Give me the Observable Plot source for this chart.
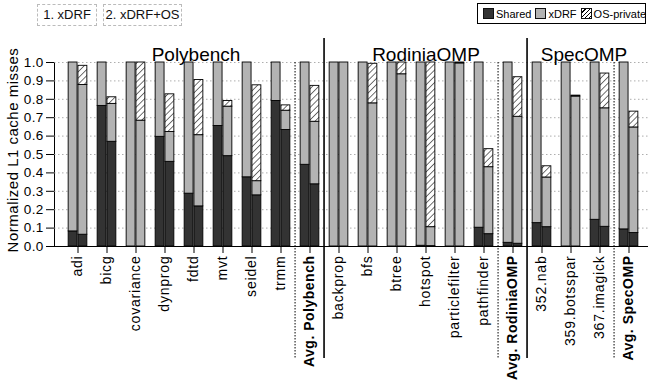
<!DOCTYPE html>
<html><head><meta charset="utf-8">
<script src="https://cdn.jsdelivr.net/npm/d3@7"></script>
<script src="https://cdn.jsdelivr.net/npm/@observablehq/plot@0.6"></script>
<style>
body{margin:0;background:#fff;font-family:"Liberation Sans",Arial,sans-serif;}
#wrap{position:relative;width:648px;height:383px;overflow:hidden;}
#wrap svg{position:absolute;left:0;top:0;}
.cfg{position:absolute;top:4px;height:22px;border:1px dashed #bbb;box-sizing:border-box;font-size:13px;line-height:20px;text-align:center;color:#111;white-space:nowrap;}
#legend{position:absolute;left:477px;top:3px;width:169px;height:21px;border:1px solid #000;box-sizing:border-box;background:#fff;display:flex;align-items:center;padding-left:5px;font-size:11px;color:#000;white-space:nowrap;}
#legend .sw{width:9px;height:9px;border:1px solid #111;margin-right:2px;flex:none;}
#legend .lab{margin-right:4px;}
</style></head><body><div id="wrap"></div>
<script>
const benchmarks = ["adi","bicg","covariance","dynprog","fdtd","mvt","seidel","trmm","Avg. Polybench",
  "backprop","bfs","btree","hotspot","particlefilter","pathfinder","Avg. RodiniaOMP",
  "352.nab","359.botsspar","367.imagick","Avg. SpecOMP"];
// config 1: xDRF  (segment sizes)
const shared1 = [0.082,0.764,0.000,0.596,0.287,0.655,0.376,0.791,0.444, 0.000,0.000,0.000,0.004,0.000,0.102,0.020, 0.127,0.000,0.145,0.093];
const xdrf1   = [0.918,0.236,1.000,0.404,0.713,0.345,0.624,0.209,0.556, 1.000,1.000,1.000,0.996,1.000,0.898,0.980, 0.873,1.000,0.855,0.907];
const os1     = [0,0,0,0,0,0,0,0,0, 0,0,0,0,0,0,0, 0,0,0,0];
// config 2: xDRF+OS (segment sizes)
const shared2 = [0.064,0.569,0.000,0.460,0.218,0.491,0.278,0.633,0.338, 0.000,0.000,0.000,0.002,0.000,0.067,0.015, 0.105,0.000,0.107,0.073];
const xdrf2   = [0.814,0.206,0.684,0.162,0.387,0.269,0.077,0.105,0.340, 1.000,0.778,0.936,0.103,0.995,0.364,0.690, 0.270,0.815,0.644,0.574];
const os2     = [0.104,0.036,0.316,0.205,0.300,0.031,0.521,0.029,0.195, 0.000,0.215,0.064,0.895,0.005,0.098,0.215, 0.061,0.005,0.189,0.086];
const yTicks = [0.0,0.1,0.2,0.3,0.4,0.5,0.6,0.7,0.8,0.9,1.0];
const seriesNames = ["Shared","xDRF","OS-private"];
const seriesColors = ["#333333","#b3b3b3","url(#hatch)"];
const configLabels = ["1. xDRF","2. xDRF+OS"];
const suiteNames = ["Polybench","RodiniaOMP","SpecOMP"];
const suiteAnchors = ["fdtd","hotspot","359.botsspar"];
const suiteShift = [2,0,13];
const dottedAt = ["Avg. Polybench","Avg. RodiniaOMP","Avg. SpecOMP"];
const solidAt = ["backprop","352.nab"];
const yLabel = "Normalized L1 cache misses";

function rows(sh, xd, os){
  const out = [];
  benchmarks.forEach((b,i)=>{
    [sh[i],xd[i],os[i]].forEach((v,k)=>{ if (v>0) out.push({bench:b, series:seriesNames[k], value:v}); });
  });
  return out;
}
const rows1 = rows(shared1,xdrf1,os1), rows2 = rows(shared2,xdrf2,os2);
const half = 29.9/2, bw = 9.8;
const barOpts = {x:"bench", y:"value", fill:"series", stroke:"#000", strokeWidth:0.9};

const svg = Plot.plot({
  width:648, height:383, marginLeft:54, marginRight:0, marginTop:62, marginBottom:137,
  style:{fontFamily:"'Liberation Sans', Arial, sans-serif", fontSize:"13.5px", background:"transparent", color:"#000"},
  x:{domain:benchmarks, range:[54,652], padding:0, tickSize:7, tickPadding:2, tickRotate:-90, line:true, label:null},
  y:{domain:[0,1], ticks:yTicks, tickFormat:d3.format(".1f"), tickSize:8, tickPadding:3, line:true, label:null},
  color:{type:"ordinal", domain:seriesNames, range:seriesColors},
  marks:[
    Plot.ruleY(yTicks.filter(d=>d>0), {stroke:"#999", strokeWidth:0.8, strokeDasharray:"1.5,2.5"}),
    Plot.barY(rows1, Plot.stackY({...barOpts, insetLeft:half-bw, insetRight:half})),
    Plot.barY(rows2, Plot.stackY({...barOpts, insetLeft:half, insetRight:half-bw})),
    Plot.ruleX(dottedAt, {x:d=>d, dx:-half, stroke:"#000", strokeWidth:1, strokeDasharray:"1.5,1.5", insetBottom:-112}),
    Plot.ruleX(solidAt, {x:d=>d, dx:-half, stroke:"#000", strokeWidth:1.6, insetTop:-24, insetBottom:-112}),
    ...suiteNames.map((n,i)=>Plot.text([n], {x:()=>suiteAnchors[i], text:d=>d, frameAnchor:"top", dy:-15, dx:suiteShift[i], fontSize:19, fill:"#000"}))
  ]
});

const s = d3.select(svg);
const defs = s.insert("defs", ":first-child");
const pat = defs.append("pattern").attr("id","hatch").attr("patternUnits","userSpaceOnUse")
  .attr("width",4.4).attr("height",4.4).attr("patternTransform","rotate(45)");
pat.append("rect").attr("width",4.4).attr("height",4.4).attr("fill","#fff");
pat.append("line").attr("x1",0).attr("y1",0).attr("x2",0).attr("y2",4.4).attr("stroke","#000").attr("stroke-width",1.1);

const benchSet = new Set(benchmarks);
s.selectAll("text").each(function(){
  const t = this.textContent;
  if (benchSet.has(t)) {
    d3.select(this).attr("font-size","14px").attr("letter-spacing","0.8px");
    if (t.startsWith("Avg.")) d3.select(this).attr("font-weight","bold").attr("letter-spacing","0.5px");
  } else if (/^\d\.\d$/.test(t)) {
    d3.select(this).attr("letter-spacing","0.3px").attr("font-size","13.5px");
  }
});
s.append("text").attr("transform","translate(14,150) rotate(-90)").attr("text-anchor","middle")
  .attr("dominant-baseline","middle").attr("font-size","15px").attr("letter-spacing","0.5px").attr("fill","#000").text(yLabel);

const wrap = document.getElementById("wrap");
wrap.appendChild(svg);
const lefts = [37,103], widths = [60,79];
configLabels.forEach((c,i)=>{
  const d = document.createElement("div");
  d.className = "cfg"; d.style.left = lefts[i]+"px"; d.style.width = widths[i]+"px"; d.textContent = c;
  wrap.appendChild(d);
});
const lg = document.createElement("div"); lg.id = "legend";
const swStyles = ["background:#333","background:#b3b3b3","background:repeating-linear-gradient(135deg,#fff 0 2px,#000 2px 3px)"];
seriesNames.forEach((n,i)=>{
  const sw = document.createElement("span"); sw.className="sw"; sw.style.cssText = swStyles[i];
  const lb = document.createElement("span"); lb.className="lab"; lb.textContent = n;
  lg.appendChild(sw); lg.appendChild(lb);
});
wrap.appendChild(lg);
</script></body></html>
